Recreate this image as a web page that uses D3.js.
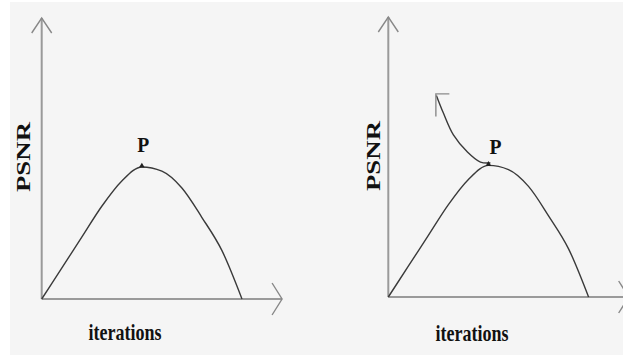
<!DOCTYPE html>
<html>
<head>
<meta charset="utf-8">
<script src="https://cdn.jsdelivr.net/npm/d3@7"></script>
<style>
  html, body { margin: 0; padding: 0; background: #ffffff; }
  svg { display: block; }
</style>
</head>
<body>
<svg id="chart" width="623" height="358"></svg>
<script>
// ---- data (abstract units) ----
const iterations = [0, 1, 2, 3, 4, 5, 6, 7, 8, 9, 10];
const psnr = [0, 1.1, 2.2, 3.3, 4.2, 4.7, 4.55, 3.95, 2.9, 1.72, 0];
// backward (retreating) curve in the right panel, from the peak P up-left
const backIter = [5.1, 4.6, 3.95, 3.25, 2.75, 2.4];
const backPsnr = [4.79, 4.82, 5.18, 5.79, 6.57, 7.2];
const peakIndex = 5;
const xLabel = "iterations";
const yLabel = "PSNR";
const peakLabel = "P";

const svg = d3.select("#chart");
svg.append("rect").attr("x", 10).attr("y", 2).attr("width", 613).attr("height", 353).attr("fill", "#f5f5f5");

const panels = [
  { ox: 41.7, oy: 299, top: 18, back: false, pLabelDx: 1.5, pBase: 152, yLab: { x: 30, y: 157 }, xLab: { x: 125, y: 340 } },
  { ox: 388.3, oy: 297, top: 17, back: true, pLabelDx: 7, pBase: 154, yLab: { x: 380, y: 156 }, xLab: { x: 472, y: 341 } }
];

panels.forEach(p => {
  const x = d3.scaleLinear().domain([0, 12]).range([p.ox, p.ox + 12 * 20.03]);
  const y = d3.scaleLinear().domain([0, 10]).range([p.oy, p.top]);
  const g = svg.append("g");

  // axes
  const axisColor = "#9a9a9a";
  g.append("line").attr("x1", x(0)).attr("y1", y(0)).attr("x2", x(0)).attr("y2", y(10))
    .attr("stroke", axisColor).attr("stroke-width", 2);
  g.append("line").attr("x1", x(0)).attr("y1", y(0)).attr("x2", x(12)).attr("y2", y(0))
    .attr("stroke", axisColor).attr("stroke-width", 2);
  // arrowheads
  g.append("path")
    .attr("d", `M${x(0) - 10},${y(10) + 15} L${x(0)},${y(10)} L${x(0) + 10},${y(10) + 15}`)
    .attr("fill", "none").attr("stroke", "#888").attr("stroke-width", 1.4);
  g.append("path")
    .attr("d", `M${x(12) - 10},${y(0) - 16} L${x(12)},${y(0)} L${x(12) - 10},${y(0) + 16}`)
    .attr("fill", "none").attr("stroke", "#888").attr("stroke-width", 1.4);

  // curve
  const line = d3.line().x(d => x(d[0])).y(d => y(d[1])).curve(d3.curveMonotoneX);
  g.append("path").datum(iterations.map((v, i) => [v, psnr[i]]))
    .attr("d", line).attr("fill", "none").attr("stroke", "#3a3a3a").attr("stroke-width", 1.4);

  if (p.back) {
    const backLine = d3.line().x(d => x(d[0])).y(d => y(d[1])).curve(d3.curveCatmullRom.alpha(0.5));
    const pts = backIter.map((v, i) => [v, backPsnr[i]]);
    g.append("path").datum(pts).attr("d", backLine)
      .attr("fill", "none").attr("stroke", "#3a3a3a").attr("stroke-width", 1.4);
    const end = pts[pts.length - 1];
    const ex = x(end[0]), ey = y(end[1]);
    g.append("path")
      .attr("d", `M${ex + 13},${ey - 1.5} L${ex - 0.5},${ey - 1.5} L${ex - 0.5},${ey + 21}`)
      .attr("fill", "none").attr("stroke", "#8a8a8a").attr("stroke-width", 1.4);
  }

  // peak marker
  const px = x(iterations[peakIndex]), py = y(psnr[peakIndex]);
  g.append("path").attr("d", d3.symbol().type(d3.symbolTriangle).size(14)())
    .attr("transform", `translate(${px},${py - 1})`).attr("fill", "#222");

  // labels
  g.append("text").attr("x", px + p.pLabelDx).attr("y", p.pBase)
    .attr("text-anchor", "middle").attr("font-family", "Liberation Serif, serif")
    .attr("font-weight", "bold").attr("font-size", 21).attr("fill", "#111")
    .attr("textLength", 12).attr("lengthAdjust", "spacingAndGlyphs").text(peakLabel);

  g.append("text")
    .attr("transform", `translate(${p.yLab.x},${p.yLab.y}) rotate(-90)`)
    .attr("text-anchor", "middle").attr("font-family", "Liberation Serif, serif")
    .attr("font-weight", "bold").attr("font-size", 18).attr("fill", "#111")
    .attr("textLength", 70).attr("lengthAdjust", "spacingAndGlyphs").text(yLabel);

  g.append("text").attr("x", p.xLab.x).attr("y", p.xLab.y)
    .attr("text-anchor", "middle").attr("font-family", "Liberation Serif, serif")
    .attr("font-weight", "bold").attr("font-size", 24).attr("fill", "#111")
    .attr("textLength", 73).attr("lengthAdjust", "spacingAndGlyphs").text(xLabel);
});
</script>
</body>
</html>
